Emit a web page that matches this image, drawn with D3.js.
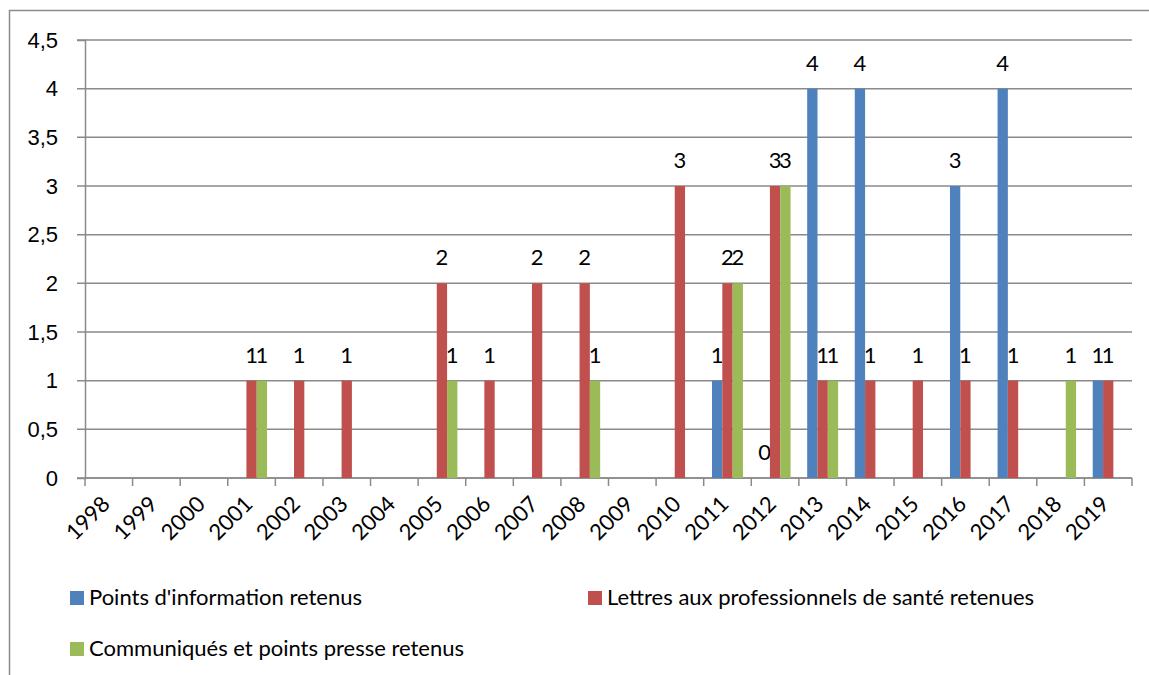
<!DOCTYPE html>
<html>
<head>
<meta charset="utf-8">
<script src="https://cdn.jsdelivr.net/npm/d3@7"></script>
<style>
  body { margin: 0; background: #fff; }
  svg { font-family: Lato, "Open Sans", sans-serif; }
</style>
</head>
<body>
<div id="chart"></div>
<script>
// years on the x axis
const years = ["1998", "1999", "2000", "2001", "2002", "2003", "2004", "2005", "2006", "2007", "2008",
    "2009", "2010", "2011", "2012", "2013", "2014", "2015", "2016", "2017", "2018", "2019"];

// null = no bar / no label
const pointsInfo = [null, null, null, null, null, null, null, null, null, null, null,
    null, null, 1, 0, 4, 4, null, 3, 4, null, 1];
const lettresPro = [null, null, null, 1, 1, 1, null, 2, 1, 2, 2,
    null, 3, 2, 3, 1, 1, 1, 1, 1, null, 1];
const communiques = [null, null, null, 1, null, null, null, 1, null, null, 1,
    null, null, 2, 3, 1, null, null, null, null, 1, null];

const seriesNames = ["Points d'information retenus", "Lettres aux professionnels de santé retenues",
    "Communiqués et points presse retenus"];
const seriesColors = ["#4F81BD", "#C0504D", "#9BBB59"];
const yTicks = [0, 0.5, 1, 1.5, 2, 2.5, 3, 3.5, 4, 4.5];

const W = 1149, H = 675;
const margin = { top: 40, right: 17, bottom: 197, left: 85 };
const width = W - margin.left - margin.right;
const height = H - margin.top - margin.bottom;

const svg = d3.select("#chart").append("svg")
    .attr("width", W)
    .attr("height", H);

// outer chart border (left + top only visible)
svg.append("path")
    .attr("d", "M9.5," + H + "V10.5H" + W)
    .attr("fill", "none")
    .attr("stroke", "#8c8c8c")
    .attr("stroke-width", 1.5);

const g = svg.append("g")
    .attr("transform", "translate(" + margin.left + "," + margin.top + ")");

const x = d3.scaleBand()
    .domain(years)
    .range([0, width]);

const groupWidth = x.bandwidth() * 0.65;
const xSeries = d3.scaleBand()
    .domain(d3.range(3))
    .range([(x.bandwidth() - groupWidth) / 2, (x.bandwidth() + groupWidth) / 2]);

const y = d3.scaleLinear()
    .domain([0, 4.5])
    .range([height, 0]);

const fmt = d => String(d).replace(".", ",");

// gridlines
g.append("g")
    .selectAll("line")
    .data(yTicks)
    .join("line")
    .attr("x1", -8)
    .attr("x2", width)
    .attr("y1", d => y(d))
    .attr("y2", d => y(d))
    .attr("stroke", "#8a8a8a")
    .attr("stroke-width", 1.5);

// y axis
const yAxis = g.append("g")
    .call(d3.axisLeft(y).tickValues(yTicks).tickFormat(fmt).tickSize(8).tickPadding(19));
yAxis.select(".domain").attr("stroke", "#8a8a8a").attr("stroke-width", 1.5);
yAxis.selectAll(".tick line").remove();
yAxis.selectAll("text")
    .attr("font-size", "22px")
    .attr("fill", "#000");

// x axis: ticks at category boundaries
const xAxis = g.append("g")
    .attr("transform", "translate(0," + height + ")");
xAxis.append("line")
    .attr("x1", 0).attr("x2", width)
    .attr("stroke", "#8a8a8a").attr("stroke-width", 1.5);
xAxis.selectAll(".bnd")
    .data(d3.range(years.length + 1))
    .join("line")
    .attr("class", "bnd")
    .attr("x1", i => i * x.step())
    .attr("x2", i => i * x.step())
    .attr("y1", 0).attr("y2", 8)
    .attr("stroke", "#8a8a8a").attr("stroke-width", 1.5);
xAxis.selectAll(".lbl")
    .data(years)
    .join("text")
    .attr("class", "lbl")
    .attr("transform", d => "translate(" + (x(d) + x.bandwidth() / 2 - 3) + ",22)rotate(-45)")
    .attr("text-anchor", "end")
    .attr("dy", "0.35em")
    .attr("font-size", "22px")
    .attr("fill", "#000")
    .text(d => d);

// bars
const series = [pointsInfo, lettresPro, communiques];
series.forEach((vals, s) => {
    const pts = years.map((yr, i) => ({ yr: yr, v: vals[i] })).filter(d => d.v !== null);
    g.append("g").selectAll("rect")
        .data(pts)
        .join("rect")
        .attr("x", d => x(d.yr) + xSeries(s))
        .attr("y", d => y(d.v))
        .attr("width", xSeries.bandwidth())
        .attr("height", d => height - y(d.v))
        .attr("fill", seriesColors[s]);
    g.append("g").selectAll("text")
        .data(pts)
        .join("text")
        .attr("x", d => x(d.yr) + xSeries(s) + xSeries.bandwidth() / 2)
        .attr("y", d => y(d.v) - 18)
        .attr("text-anchor", "middle")
        .attr("font-size", "22px")
        .attr("fill", "#000")
        .text(d => fmt(d.v));
});

// legend
const legendPos = [[70, 591], [588, 591], [70, 642]];
seriesNames.forEach((name, s) => {
    const lg = svg.append("g")
        .attr("transform", "translate(" + legendPos[s][0] + "," + legendPos[s][1] + ")");
    lg.append("rect")
        .attr("width", 14).attr("height", 14)
        .attr("fill", seriesColors[s]);
    lg.append("text")
        .attr("x", 19)
        .attr("y", 14)
        .attr("font-size", "22px")
        .attr("fill", "#000")
        .text(name);
});
</script>
</body>
</html>
